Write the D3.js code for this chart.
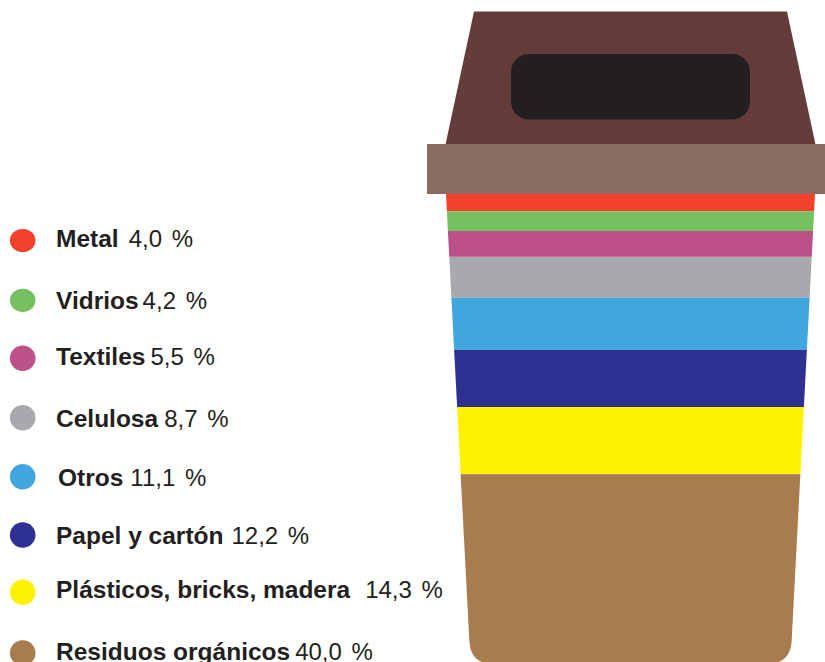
<!DOCTYPE html>
<html>
<head>
<meta charset="utf-8">
<script src="https://cdn.jsdelivr.net/npm/d3@7"></script>
<style>
  html, body { margin: 0; padding: 0; background: #fff; }
  svg { display: block; }
  text { font-family: "Liberation Sans", Arial, sans-serif; font-size: 24.5px; fill: #231f20; }
  .name { font-weight: 700; }
  .share { font-size: 24px; }
</style>
</head>
<body>
<svg id="chart" width="825" height="662"></svg>
<script>
// Composition of household waste, top of the bin to the bottom
const categories = ["Metal", "Vidrios", "Textiles", "Celulosa", "Otros", "Papel y cartón", "Plásticos, bricks, madera", "Residuos orgánicos"];
const shares = [4.0, 4.2, 5.5, 8.7, 11.1, 12.2, 14.3, 40.0];
const shareLabels = ["4,0 %", "4,2 %", "5,5 %", "8,7 %", "11,1 %", "12,2 %", "14,3 %", "40,0 %"];
const colors = ["#f2422b", "#75c161", "#bc5088", "#a7a9ac", "#40a6de", "#2e3192", "#fff200", "#a97c50"];

// Legend layout
const legendDotY = [240.5, 300.3, 358.3, 417.7, 476.7, 535, 592.3, 653];
const legendDotRy = [11.6, 11.6, 12.7, 12.8, 12.7, 12.7, 12.7, 12.7];
const legendBaseY = [247, 309, 365, 427, 486, 544, 598, 660];
const legendTextX = [56, 56, 56, 56, 58, 56, 56, 56];
const nameGaps = [10, 4, 5, 6, 7, 8, 15, 5];

const svg = d3.select("#chart");

// Cumulative shares run down the body of the bin
const y = d3.scaleLinear().domain([0, 100]).range([192.5, 662]);
const stacked = d3.cumsum(shares);

// Tapered body with rounded bottom corners, used to trim the bands
const body = d3.path();
body.moveTo(445.5, 185);
body.lineTo(815.5, 185);
body.lineTo(791.7, 640);
body.quadraticCurveTo(791, 662, 770, 664);
body.lineTo(490, 664);
body.quadraticCurveTo(470, 662, 469.3, 640);
body.closePath();

svg.append("defs").append("clipPath").attr("id", "bin-body")
  .append("path").attr("d", body.toString());

svg.append("g").attr("clip-path", "url(#bin-body)")
  .selectAll("rect")
  .data(shares)
  .join("rect")
  .attr("x", 440)
  .attr("width", 385)
  .attr("y", (d, i) => y(stacked[i] - d))
  .attr("height", (d, i) => y(stacked[i]) - y(stacked[i] - d) + (i === shares.length - 1 ? 4 : 0))
  .attr("fill", (d, i) => colors[i]);

// Lid, rim and slot
const lid = d3.line()([[474, 11.5], [787, 11.5], [815.5, 144.5], [445.5, 144.5]]) + "Z";
svg.append("path").attr("d", lid).attr("fill", "#643c39");
svg.append("rect").attr("x", 427).attr("y", 144).attr("width", 398).attr("height", 50).attr("fill", "#8a6b5f");
svg.append("rect").attr("x", 511).attr("y", 54).attr("width", 239).attr("height", 65.5).attr("rx", 18).attr("fill", "#231f20");

// Legend
const legend = svg.append("g").selectAll("g").data(categories).join("g");

legend.append("ellipse")
  .attr("cx", 22.7)
  .attr("cy", (d, i) => legendDotY[i])
  .attr("rx", 12.8)
  .attr("ry", (d, i) => legendDotRy[i])
  .attr("fill", (d, i) => colors[i]);

const labels = legend.append("text")
  .attr("x", (d, i) => legendTextX[i])
  .attr("y", (d, i) => legendBaseY[i]);
labels.append("tspan").attr("class", "name").text(d => d);
labels.append("tspan")
  .attr("class", "share")
  .attr("dx", (d, i) => nameGaps[i])
  .attr("word-spacing", 3)
  .text((d, i) => shareLabels[i]);
</script>
</body>
</html>
